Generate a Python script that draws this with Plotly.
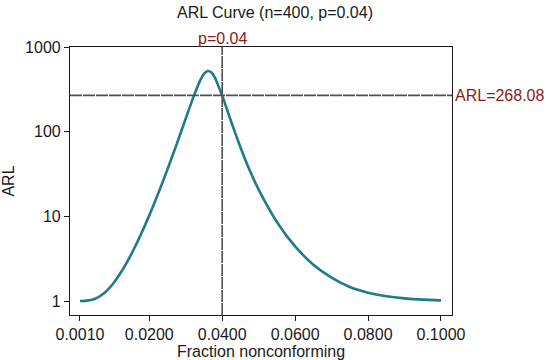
import math
import plotly.graph_objects as go

# Data
p_values = [0.001, 0.0025, 0.005, 0.0075, 0.01, 0.0125, 0.015, 0.0175, 0.02, 0.0225,
            0.025, 0.0275, 0.03, 0.032, 0.034, 0.035, 0.036, 0.037, 0.038, 0.039,
            0.04, 0.042, 0.044, 0.045, 0.0475, 0.05, 0.055, 0.06, 0.065, 0.07,
            0.075, 0.08, 0.085, 0.09, 0.095, 0.1]
arl_values = [1.000, 1.004, 1.055, 1.226, 1.590, 2.277, 3.532, 5.87, 10.27, 18.85,
              35.98, 70.8, 143, 249, 407, 481, 521, 503, 436, 342,
              268.08, 150, 85.7, 65.6, 35.3, 20.7, 8.59, 4.41, 2.69, 1.89,
              1.466, 1.256, 1.139, 1.074, 1.038, 1.019]

p0 = 0.04
arl0 = 268.08
x_tick_vals = [0.001, 0.02, 0.04, 0.06, 0.08, 0.1]
x_tick_text = ["0.0010", "0.0200", "0.0400", "0.0600", "0.0800", "0.1000"]
y_tick_vals = [1, 10, 100, 1000]
y_tick_text = ["1", "10", "100", "1000"]

font_family = "Liberation Sans, Arial, sans-serif"
ref_color = "#505050"
label_color = "#8b1a1a"
text_color = "#1a1a1a"

fig = go.Figure()
fig.add_trace(go.Scatter(
    x=p_values, y=arl_values, mode="lines",
    line=dict(color="#1f7a8c", width=2.6, shape="spline", smoothing=0.6),
    showlegend=False, hoverinfo="x+y"))

fig.add_shape(type="line", xref="paper", yref="y", x0=0, x1=1,
              y0=arl0, y1=arl0, line=dict(color=ref_color, width=1.6, dash="12px,1px"))
fig.add_shape(type="line", xref="x", yref="paper", x0=p0, x1=p0,
              y0=0, y1=1, line=dict(color=ref_color, width=1.6, dash="12px,1px"))

fig.add_annotation(x=p0, y=1, xref="x", yref="paper", text=f"p={p0:.2f}",
                   showarrow=False, yanchor="bottom", yshift=-2,
                   font=dict(color=label_color, size=16, family=font_family))
fig.add_annotation(x=1, y=math.log10(arl0), xref="paper", yref="y",
                   text=f"ARL={arl0:.2f}", showarrow=False, xanchor="left", xshift=1,
                   font=dict(color=label_color, size=16, family=font_family))
# x-axis title placed as annotation for precise vertical placement
fig.add_annotation(x=0.5, y=0, xref="paper", yref="paper", text="Fraction nonconforming",
                   showarrow=False, yanchor="top", yshift=-26,
                   font=dict(color=text_color, size=16, family=font_family))

fig.update_layout(
    width=550, height=360,
    margin=dict(l=70, r=98, t=47, b=45),
    paper_bgcolor="white", plot_bgcolor="white",
    font=dict(family=font_family, size=16, color=text_color),
    title=dict(text="ARL Curve (n=400, p=0.04)", x=0.5, xanchor="center",
               y=0.965, yanchor="middle", font=dict(size=16, color=text_color)),
)
fig.update_xaxes(
    range=[-0.00174, 0.10302], tickvals=x_tick_vals, ticktext=x_tick_text,
    showgrid=False, zeroline=False, showline=True, linecolor=text_color, linewidth=1.2,
    mirror=True, ticks="outside", ticklen=5, tickcolor=text_color, automargin=False,
    tickfont=dict(size=16, color=text_color),
)
fig.update_yaxes(
    type="log", range=[-0.165, 3], tickvals=y_tick_vals, ticktext=y_tick_text,
    showgrid=False, zeroline=False, showline=True, linecolor=text_color, linewidth=1.2,
    mirror=True, ticks="outside", ticklen=5, tickcolor=text_color, automargin=False,
    tickfont=dict(size=16, color=text_color),
    title=dict(text="ARL", font=dict(size=16, color=text_color), standoff=8),
)

fig.write_html("out.html", config={"displayModeBar": False},
               post_script="document.body.style.margin='0';")
